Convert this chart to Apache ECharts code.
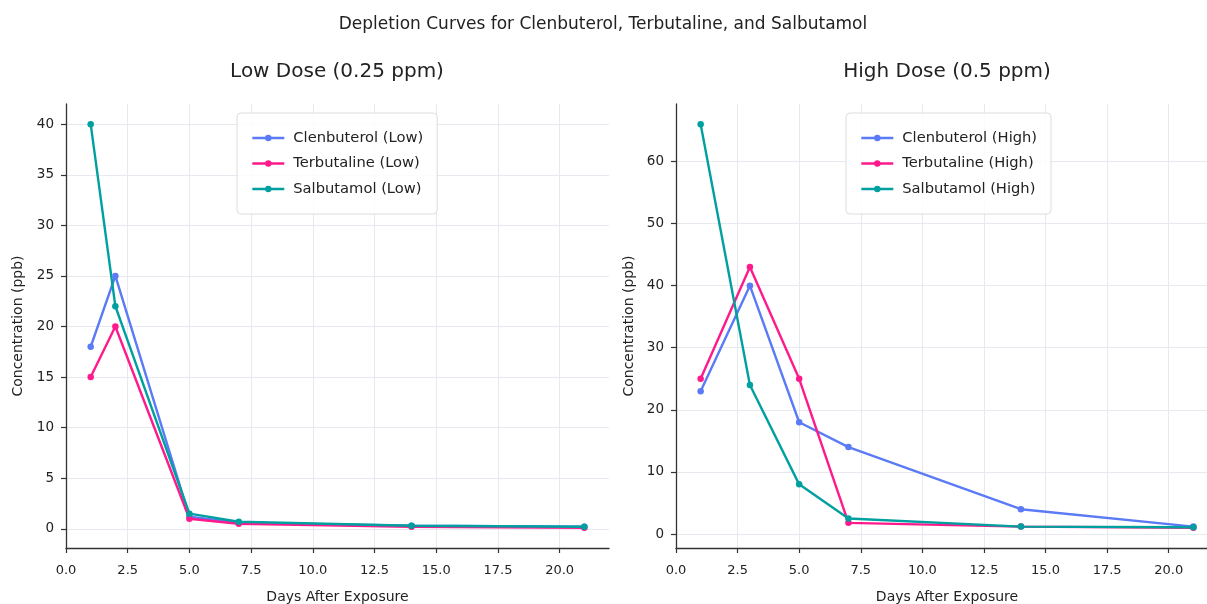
<!DOCTYPE html>
<html>
<head>
<meta charset="utf-8">
<script src="https://cdn.jsdelivr.net/npm/echarts@6/dist/echarts.min.js"></script>
<style>html,body{margin:0;padding:0;background:#fff}#c{width:1207px;height:604px}</style>
</head>
<body>
<div id="c"></div>
<script>
// Data
const daysLow = [1, 2, 5, 7, 14, 21];
const daysHigh = [1, 3, 5, 7, 14, 21];
const clenLow = [18, 25, 1.2, 0.6, 0.3, 0.2];
const terbLow = [15, 20, 1.0, 0.5, 0.2, 0.1];
const salbLow = [40, 22, 1.5, 0.7, 0.3, 0.2];
const clenHigh = [23, 40, 18, 14, 4, 1.2];
const terbHigh = [25, 43, 25, 1.8, 1.2, 1.0];
const salbHigh = [66, 24, 8, 2.5, 1.2, 1.1];
const xTicks = [0, 2.5, 5, 7.5, 10, 12.5, 15, 17.5, 20];
const yTicksLow = [0, 5, 10, 15, 20, 25, 30, 35, 40];
const yTicksHigh = [0, 10, 20, 30, 40, 50, 60];
const namesLow = ['Clenbuterol (Low)', 'Terbutaline (Low)', 'Salbutamol (Low)'];
const namesHigh = ['Clenbuterol (High)', 'Terbutaline (High)', 'Salbutamol (High)'];

const colors = ['#5a7bf5', '#ff1a8c', '#00a0a0'];
const FONT = 'DejaVu Sans';
const pair = (xs, ys) => xs.map((x, i) => [x, ys[i]]);

function xAxisCfg(gi) {
  return {
    type: 'value', gridIndex: gi, min: 0, max: 22,
    name: 'Days After Exposure', nameLocation: 'middle', nameGap: 42, nameMoveOverlap: false,
    nameTextStyle: {fontFamily: FONT, fontSize: 14, color: '#222'},
    axisLine: {show: true, onZero: false, lineStyle: {color: '#333', width: 1.3}},
    axisTick: {show: true, length: 5, lineStyle: {color: '#333', width: 1.2}, customValues: xTicks},
    axisLabel: {fontFamily: FONT, fontSize: 13, color: '#222', margin: 16, customValues: xTicks,
      formatter: v => v.toFixed(1)},
    splitLine: {show: true, lineStyle: {color: '#e8e8f0', width: 1}}
  };
}
function yAxisCfg(gi, min, max, ticks, gap) {
  return {
    type: 'value', gridIndex: gi, min: min, max: max,
    name: 'Concentration (ppb)', nameLocation: 'middle', nameGap: gap, nameMoveOverlap: false,
    nameTextStyle: {fontFamily: FONT, fontSize: 14, color: '#222'},
    axisLine: {show: true, onZero: false, lineStyle: {color: '#333', width: 1.3}},
    axisTick: {show: true, length: 5, lineStyle: {color: '#333', width: 1.2}, customValues: ticks},
    axisLabel: {fontFamily: FONT, fontSize: 13.5, color: '#222', margin: 12, customValues: ticks},
    splitLine: {show: true, lineStyle: {color: '#e8e8f0', width: 1}}
  };
}
function lineSeries(name, xs, ys, idx, c) {
  return {
    type: 'line', name: name, xAxisIndex: idx, yAxisIndex: idx,
    data: pair(xs, ys), symbol: 'circle', symbolSize: 6.5,
    lineStyle: {width: 2.4, color: c}, itemStyle: {color: c},
    emphasis: {disabled: true}, animation: false
  };
}
function legendCfg(names, left) {
  return {
    data: names, orient: 'vertical', left: left, top: 113,
    padding: [16, 14, 16, 14], itemGap: 7.5, itemWidth: 32, itemHeight: 8,
    lineStyle: {width: 2.6},
    textStyle: {fontFamily: FONT, fontSize: 14.7, color: '#222', lineHeight: 18, padding: [0, 0, 0, 4]},
    borderColor: '#dddddd', borderWidth: 1, borderRadius: 4,
    backgroundColor: 'rgba(255,255,255,0.85)'
  };
}

const chart = echarts.init(document.getElementById('c'), null, {renderer: 'canvas'});
chart.setOption({
  backgroundColor: '#fff',
  animation: false,
  title: [
    {text: 'Depletion Curves for Clenbuterol, Terbutaline, and Salbutamol', left: 598, top: 11, textAlign: 'center',
      textStyle: {fontFamily: FONT, fontSize: 17, fontWeight: 'normal', color: '#222'}},
    {text: 'Low Dose (0.25 ppm)', left: 332, top: 57, textAlign: 'center',
      textStyle: {fontFamily: FONT, fontSize: 20, fontWeight: 'normal', color: '#222'}},
    {text: 'High Dose (0.5 ppm)', left: 942, top: 57, textAlign: 'center',
      textStyle: {fontFamily: FONT, fontSize: 20, fontWeight: 'normal', color: '#222'}}
  ],
  legend: [legendCfg(namesLow, 237), legendCfg(namesHigh, 846)],
  grid: [
    {left: 66, top: 104, width: 543, height: 444, outerBoundsMode: 'none', containLabel: false},
    {left: 676, top: 104, width: 542, height: 444, outerBoundsMode: 'none', containLabel: false}
  ],
  xAxis: [xAxisCfg(0), xAxisCfg(1)],
  yAxis: [yAxisCfg(0, -1.895, 41.995, yTicksLow, 41), yAxisCfg(1, -2.25, 69.25, yTicksHigh, 40)],
  series: [
    lineSeries(namesLow[0], daysLow, clenLow, 0, colors[0]),
    lineSeries(namesLow[1], daysLow, terbLow, 0, colors[1]),
    lineSeries(namesLow[2], daysLow, salbLow, 0, colors[2]),
    lineSeries(namesHigh[0], daysHigh, clenHigh, 1, colors[0]),
    lineSeries(namesHigh[1], daysHigh, terbHigh, 1, colors[1]),
    lineSeries(namesHigh[2], daysHigh, salbHigh, 1, colors[2])
  ]
});
</script>
</body>
</html>
